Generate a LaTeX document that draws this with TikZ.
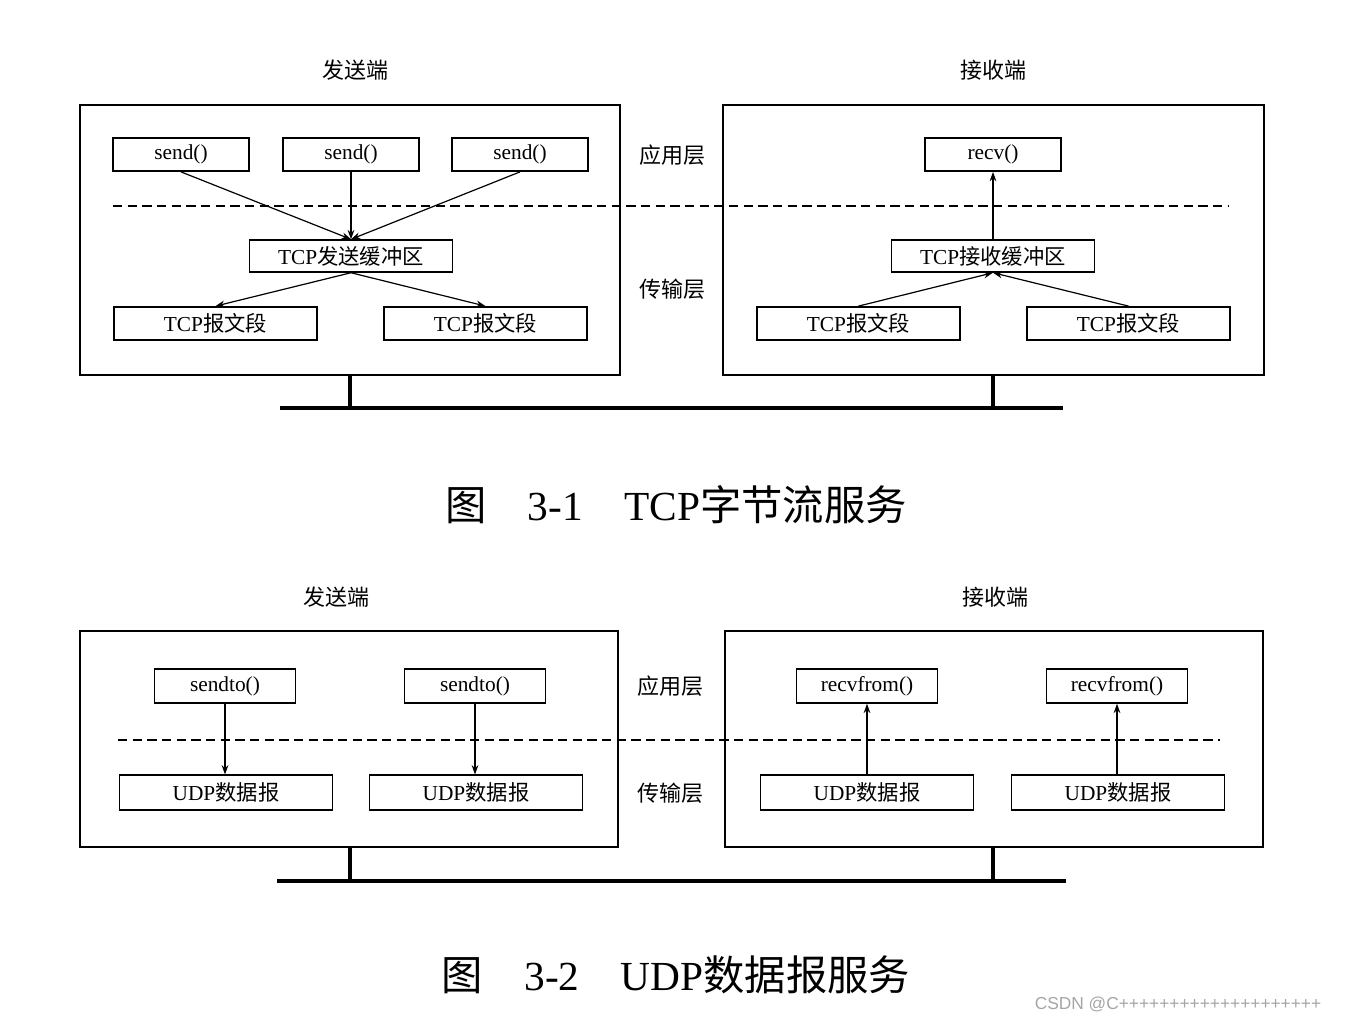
\documentclass[tikz,border=0pt]{standalone}
\usepackage{fontspec}
\setmainfont{Liberation Serif}
\newfontfamily\cjk{Noto Sans CJK SC}
\newfontfamily\wmfont{Liberation Sans}
\usetikzlibrary{arrows.meta}
\begin{document}
\begin{tikzpicture}[x=0.75pt,y=-0.75pt,
  bx/.style={draw,line width=1.1pt,inner sep=0pt},
  lbl/.style={font=\fontsize{16}{18}\selectfont},
  hd/.style={font=\cjk\fontsize{16.5}{18}\selectfont},
  ar/.style={-{Stealth[length=7pt,width=5pt]},line width=0.9pt},
  captxt/.style={font=\fontsize{31}{34}\selectfont},
  gnd/.style={line width=3pt}]
\useasboundingbox[fill=white] (0,0) rectangle (1349,1021);
% ---------- top ----------
\node[hd] (s1) at (355,70) {发送端};
\node[hd] (r1) at (993,70) {接收端};
\draw[line width=1.2pt] (80,105) rectangle (620,375);
\draw[line width=1.2pt] (723,105) rectangle (1264,375);
\node[hd] (a1) at (672,155) {应用层};
\node[hd] (t1) at (672,289) {传输层};
\draw[line width=0.9pt,dash pattern=on 7pt off 4pt] (113,206) -- (1228,206);
\node[bx,lbl,minimum width=102pt,minimum height=25pt] (sa) at (181,154.5) {send()};
\node[bx,lbl,minimum width=102pt,minimum height=25pt] (sb) at (351,154.5) {send()};
\node[bx,lbl,minimum width=102pt,minimum height=25pt] (sc) at (520,154.5) {send()};
\node[bx,lbl,minimum width=102pt,minimum height=25pt] (rv) at (993,154.5) {recv()};
\node[bx,lbl,minimum width=152pt,minimum height=24pt] (sbuf) at (351,256) {TCP{\cjk 发送缓冲区}};
\node[bx,lbl,minimum width=152pt,minimum height=24pt] (rbuf) at (993,256) {TCP{\cjk 接收缓冲区}};
\node[bx,lbl,minimum width=152pt,minimum height=25pt] (g1) at (215.5,323.5) {TCP{\cjk 报文段}};
\node[bx,lbl,minimum width=152pt,minimum height=25pt] (g2) at (485.5,323.5) {TCP{\cjk 报文段}};
\node[bx,lbl,minimum width=152pt,minimum height=25pt] (g3) at (858.5,323.5) {TCP{\cjk 报文段}};
\node[bx,lbl,minimum width=152pt,minimum height=25pt] (g4) at (1128.5,323.5) {TCP{\cjk 报文段}};
\draw[ar] (sa.south) -- (sbuf.north);
\draw[ar] (sb.south) -- (sbuf.north);
\draw[ar] (sc.south) -- (sbuf.north);
\draw[ar] (sbuf.south) -- (g1.north);
\draw[ar] (sbuf.south) -- (g2.north);
\draw[ar] (g3.north) -- (rbuf.south);
\draw[ar] (g4.north) -- (rbuf.south);
\draw[ar] (rbuf.north) -- (rv.south);
\draw[gnd] (350,375) -- (350,408);
\draw[gnd] (993,375) -- (993,408);
\draw[gnd] (280,408) -- (1063,408);
\node[captxt] (c1) at (676,505) {{\cjk 图}\quad 3-1\quad TCP{\cjk 字节流服务}};
% ---------- bottom ----------
\node[hd] (s2) at (336,597) {发送端};
\node[hd] (r2) at (995,597) {接收端};
\draw[line width=1.2pt] (80,631) rectangle (618,847);
\draw[line width=1.2pt] (725,631) rectangle (1263,847);
\node[hd] (a2) at (670,686) {应用层};
\node[hd] (t2) at (670,793) {传输层};
\draw[line width=1.5pt,dash pattern=on 7pt off 4pt] (118,740) -- (1220,740);
\node[bx,lbl,minimum width=106pt,minimum height=25.5pt] (st1) at (225,686) {sendto()};
\node[bx,lbl,minimum width=106pt,minimum height=25.5pt] (st2) at (475,686) {sendto()};
\node[bx,lbl,minimum width=106pt,minimum height=25.5pt] (rf1) at (867,686) {recvfrom()};
\node[bx,lbl,minimum width=106pt,minimum height=25.5pt] (rf2) at (1117,686) {recvfrom()};
\node[bx,lbl,minimum width=160pt,minimum height=26pt] (u1) at (226,792.5) {UDP{\cjk 数据报}};
\node[bx,lbl,minimum width=160pt,minimum height=26pt] (u2) at (476,792.5) {UDP{\cjk 数据报}};
\node[bx,lbl,minimum width=160pt,minimum height=26pt] (u3) at (867,792.5) {UDP{\cjk 数据报}};
\node[bx,lbl,minimum width=160pt,minimum height=26pt] (u4) at (1118,792.5) {UDP{\cjk 数据报}};
\draw[ar] (st1.south) -- (st1.south |- u1.north);
\draw[ar] (st2.south) -- (st2.south |- u2.north);
\draw[ar] (u3.north) -- (u3.north |- rf1.south);
\draw[ar] (u4.north -| rf2.south) -- (rf2.south);
\draw[gnd] (350,847) -- (350,881);
\draw[gnd] (993,847) -- (993,881);
\draw[gnd] (277,881) -- (1066,881);
\node[captxt] (c2) at (676,975) {{\cjk 图}\quad 3-2\quad UDP{\cjk 数据报服务}};
\node[text=gray!70,font=\wmfont\fontsize{13}{15}\selectfont] (wm) at (1178,1004) {CSDN @C++++++++++++++++++++};
\end{tikzpicture}
\end{document}
